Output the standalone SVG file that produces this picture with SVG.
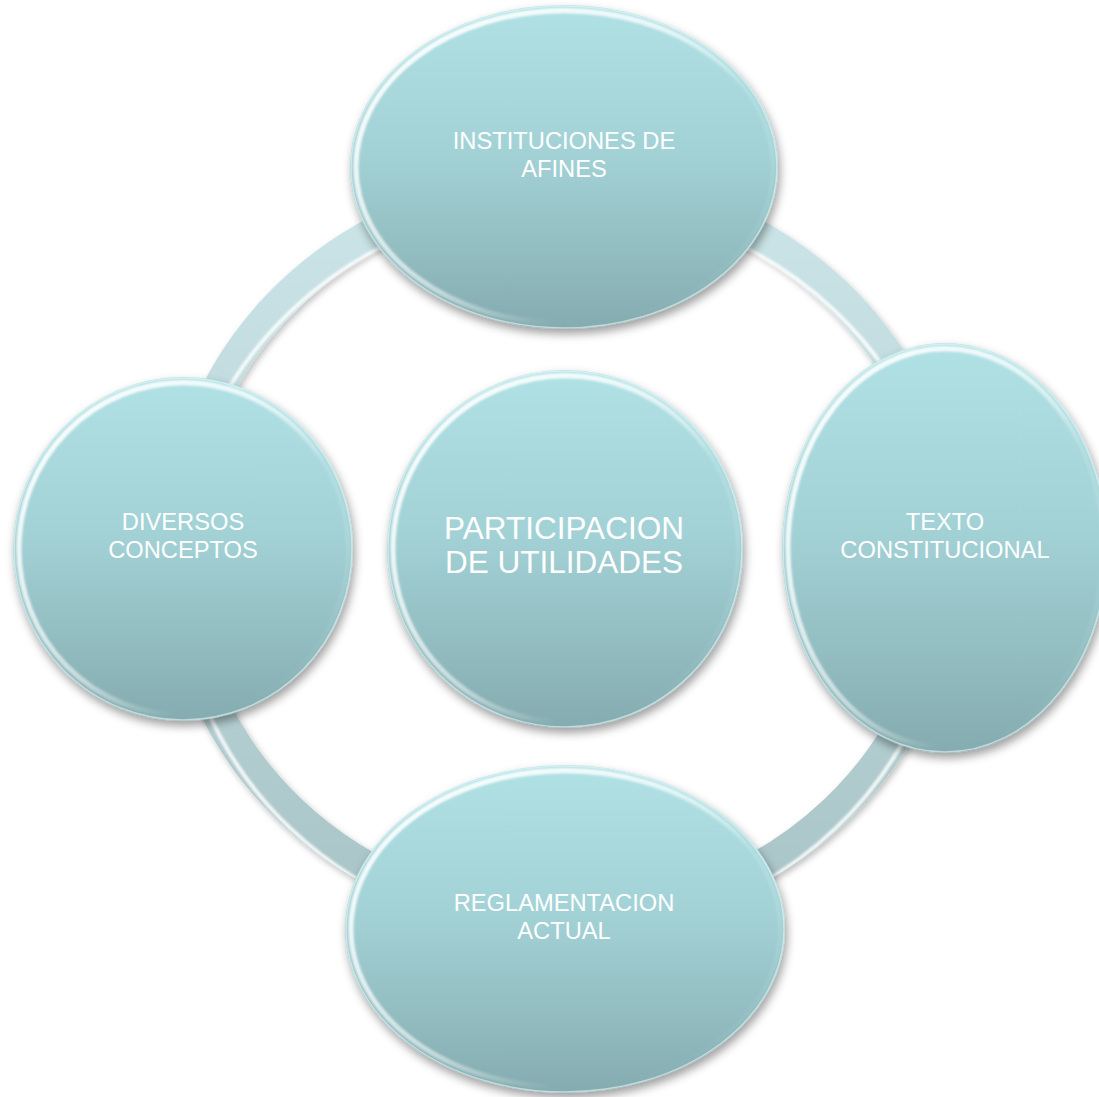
<svg xmlns="http://www.w3.org/2000/svg" width="1099" height="1097" viewBox="0 0 1099 1097">
<defs>
  <linearGradient id="nodeFill" x1="0" y1="0" x2="0" y2="1">
    <stop offset="0" stop-color="#b0e1e5"/>
    <stop offset="0.45" stop-color="#a3d2d6"/>
    <stop offset="1" stop-color="#85acb0"/>
  </linearGradient>
  <linearGradient id="rimGrad" x1="0" y1="0.2" x2="1" y2="0.8">
    <stop offset="0" stop-color="#ffffff" stop-opacity="0.95"/>
    <stop offset="0.45" stop-color="#ffffff" stop-opacity="0.5"/>
    <stop offset="0.7" stop-color="#ffffff" stop-opacity="0"/>
    <stop offset="1" stop-color="#ffffff" stop-opacity="0"/>
  </linearGradient>
  <linearGradient id="topRim" x1="0" y1="0" x2="0" y2="1">
    <stop offset="0" stop-color="#e6f7f8" stop-opacity="0.9"/>
    <stop offset="0.25" stop-color="#e6f7f8" stop-opacity="0.2"/>
    <stop offset="1" stop-color="#e6f7f8" stop-opacity="0"/>
  </linearGradient>
  <linearGradient id="ringGrad" gradientUnits="userSpaceOnUse" x1="0" y1="186" x2="0" y2="918">
    <stop offset="0" stop-color="#cbe5e8"/>
    <stop offset="1" stop-color="#a9c4c7"/>
  </linearGradient>
  <filter id="shadow" x="-10%" y="-10%" width="125%" height="130%">
    <feDropShadow dx="2" dy="5" stdDeviation="5" flood-color="#000000" flood-opacity="0.38"/>
  </filter>
  <filter id="ringShadow" x="-10%" y="-10%" width="120%" height="120%">
    <feDropShadow dx="2" dy="3" stdDeviation="3" flood-color="#000000" flood-opacity="0.25"/>
  </filter>
  <filter id="soft" x="-5%" y="-5%" width="110%" height="110%">
    <feGaussianBlur stdDeviation="1.2"/>
  </filter>
  <clipPath id="ringClip">
    <path fill-rule="evenodd" d="M162,552 a401,382 0 1,0 802,0 a401,382 0 1,0 -802,0 Z M194,552 a369,350 0 1,0 738,0 a369,350 0 1,0 -738,0 Z"/>
  </clipPath>
  <style>
    .node { fill: url(#nodeFill); filter: url(#shadow); }
    .edge { fill: none; stroke: #e9f8f9; stroke-width: 1.5; stroke-opacity: 0.6; }
    .rim { fill: none; stroke: url(#rimGrad); stroke-width: 5; filter: url(#soft); }
    .trim { fill: none; stroke: url(#topRim); stroke-width: 4; filter: url(#soft); }
    .lbl { font-family: "Liberation Sans", Arial, sans-serif; font-size: 23.7px; fill: #ffffff; text-anchor: middle; }
    .big { font-size: 31.5px; }
  </style>
</defs>
<rect width="1099" height="1097" fill="#ffffff"/>

<g id="connectors">
  <ellipse cx="563" cy="552" rx="385" ry="366" fill="none" stroke="url(#ringGrad)" stroke-width="32" filter="url(#ringShadow)"/>
  <g clip-path="url(#ringClip)">
    <ellipse cx="563" cy="570" rx="385" ry="366" fill="none" stroke="#ffffff" stroke-width="4" stroke-opacity="0.85" filter="url(#soft)"/>
  </g>
</g>

<g id="node-top">
  <ellipse class="node" cx="564" cy="167" rx="214" ry="162"/>
  <ellipse class="edge" cx="564" cy="167" rx="213" ry="161"/>
  <ellipse class="trim" cx="564" cy="167" rx="209" ry="157"/>
  <ellipse class="rim" cx="564" cy="167" rx="208" ry="156"/>
  <text class="lbl" x="564" y="149">INSTITUCIONES DE</text>
  <text class="lbl" x="564" y="177">AFINES</text>
</g>

<g id="node-right">
  <ellipse class="node" cx="945" cy="548" rx="163" ry="205"/>
  <ellipse class="edge" cx="945" cy="548" rx="162" ry="204"/>
  <ellipse class="trim" cx="945" cy="548" rx="158" ry="200"/>
  <ellipse class="rim" cx="945" cy="548" rx="157" ry="199"/>
  <text class="lbl" x="945" y="530">TEXTO</text>
  <text class="lbl" x="945" y="558">CONSTITUCIONAL</text>
</g>

<g id="node-bottom">
  <ellipse class="node" cx="565" cy="929" rx="220" ry="164"/>
  <ellipse class="edge" cx="565" cy="929" rx="219" ry="163"/>
  <ellipse class="trim" cx="565" cy="929" rx="215" ry="159"/>
  <ellipse class="rim" cx="565" cy="929" rx="214" ry="158"/>
  <text class="lbl" x="564" y="911">REGLAMENTACION</text>
  <text class="lbl" x="564" y="939">ACTUAL</text>
</g>

<g id="node-left">
  <ellipse class="node" cx="183" cy="549" rx="170" ry="172"/>
  <ellipse class="edge" cx="183" cy="549" rx="169" ry="171"/>
  <ellipse class="trim" cx="183" cy="549" rx="165" ry="167"/>
  <ellipse class="rim" cx="183" cy="549" rx="164" ry="166"/>
  <text class="lbl" x="183" y="530">DIVERSOS</text>
  <text class="lbl" x="183" y="558">CONCEPTOS</text>
</g>

<g id="node-center">
  <ellipse class="node" cx="565" cy="549" rx="178" ry="179"/>
  <ellipse class="edge" cx="565" cy="549" rx="177" ry="178"/>
  <ellipse class="trim" cx="565" cy="549" rx="173" ry="174"/>
  <ellipse class="rim" cx="565" cy="549" rx="172" ry="173"/>
  <text class="lbl big" x="564" y="539">PARTICIPACION</text>
  <text class="lbl big" x="564" y="573">DE UTILIDADES</text>
</g>
</svg>
